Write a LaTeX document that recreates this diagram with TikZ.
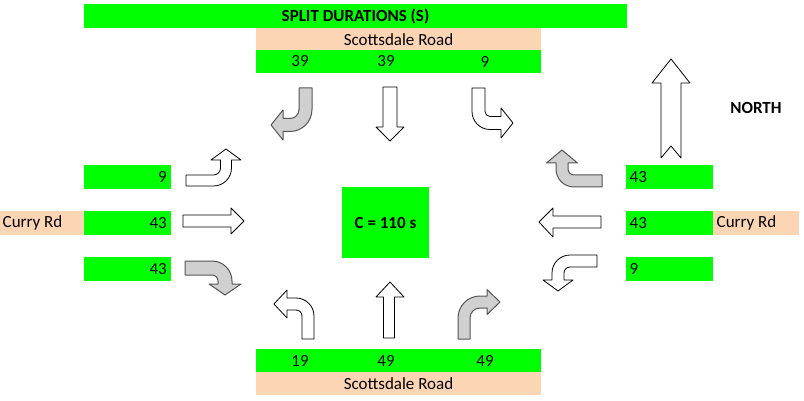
\documentclass[tikz,border=0pt]{standalone}
\usepackage{fontspec}
\setmainfont{Carlito}
\definecolor{lime}{HTML}{00FF00}
\definecolor{peach}{HTML}{FCD5B4}
\definecolor{arrowgray}{HTML}{D0D0D0}
\definecolor{arrowedge}{HTML}{555555}
\newcommand\turnarrow[7]{%
  \draw[#7] (0,0) -- (0,{#3-#2}) arc[start angle=180,end angle=90,radius=#2]
    -- (#4,#3) -- (#4,{#3-#1/2+#5}) -- ({#4+#6},{#3-#1/2}) -- (#4,{#3-#1/2-#5})
    -- (#4,{#3-#1}) -- (#2,{#3-#1}) arc[start angle=90,end angle=180,radius={#2-#1}]
    -- (#1,0) -- cycle;}
\begin{document}
\begin{tikzpicture}[x=1pt,y=1pt,
  every node/.style={font=\fontsize{17}{20}\selectfont, inner sep=0pt},
  boldtext/.style={font=\fontsize{17}{20}\selectfont\bfseries},
  cellbox/.style={fill=#1, minimum height=23pt, anchor=north west},
  whitearrow/.style={draw=black, fill=white, line width=0.8pt, line join=round},
  grayarrow/.style={draw=arrowedge, fill=arrowgray, line width=1pt, line join=round}]
\useasboundingbox (0,0) rectangle (804,-401);
\fill[white] (0,0) rectangle (804,-401);
% top
\node[cellbox=lime, minimum width=543pt, minimum height=24pt] (title) at (84,-4) {};
\node[boldtext] (titletext) at (355.5,-16.5) {SPLIT DURATIONS (S)};
\node[cellbox=peach, minimum width=285pt, minimum height=22pt] (topname) at (256,-28) {};
\node (topnametext) at (398.5,-39.5) {Scottsdale Road};
\node[cellbox=lime, minimum width=285pt] (topnums) at (256,-50) {};
\node (t1) at (300,-61.5) {39};
\node (t2) at (386,-61.5) {39};
\node (t3) at (485,-61.5) {9};
% bottom
\node[cellbox=lime, minimum width=285pt] (botnums) at (256,-349) {};
\node (b1) at (300,-360.5) {19};
\node (b2) at (386,-360.5) {49};
\node (b3) at (485,-360.5) {49};
\node[cellbox=peach, minimum width=285pt] (botname) at (256,-372) {};
\node (botnametext) at (398.5,-383.5) {Scottsdale Road};
% left
\node[cellbox=lime, minimum width=87pt, minimum height=24pt] (l1) at (84,-165) {};
\node[cellbox=lime, minimum width=87pt, minimum height=24pt] (l2) at (84,-211) {};
\node[cellbox=lime, minimum width=87pt, minimum height=24pt] (l3) at (84,-257) {};
\node[cellbox=peach, minimum width=84pt, minimum height=24pt] (lname) at (0,-211) {};
\node[anchor=east] (l1t) at (167,-177) {9};
\node[anchor=east] (l2t) at (167,-223) {43};
\node[anchor=east] (l3t) at (167,-269) {43};
\node[anchor=west] (lnamet) at (2.5,-223) {Curry Rd};
% right
\node[cellbox=lime, minimum width=87pt, minimum height=24pt] (r1) at (626,-165) {};
\node[cellbox=lime, minimum width=87pt, minimum height=24pt] (r2) at (626,-211) {};
\node[cellbox=lime, minimum width=87pt, minimum height=24pt] (r3) at (626,-257) {};
\node[cellbox=peach, minimum width=86pt, minimum height=24pt] (rname) at (713,-211) {};
\node[anchor=west] (r1t) at (629.5,-177) {43};
\node[anchor=west] (r2t) at (629.5,-223) {43};
\node[anchor=west] (r3t) at (629.5,-269) {9};
\node[anchor=west] (rnamet) at (716.5,-223) {Curry Rd};
% centre
\node[cellbox=lime, minimum width=87pt, minimum height=71pt] (cyc) at (342,-187) {};
\node[boldtext] (cyct) at (385.5,-223) {C = 110 s};
% north
\node[boldtext] (north) at (756,-108) {NORTH};
\draw[whitearrow] (661,-158) -- (661,-83) -- (652,-83) -- (671,-59) -- (690,-83) -- (681,-83) -- (681,-158) -- (671,-146) -- cycle;
% straight arrows
\draw[whitearrow] (383,-87) -- (397,-87) -- (397,-127) -- (404,-127) -- (390,-141) -- (376,-127) -- (383,-127) -- cycle;
\draw[whitearrow] (383.5,-338) -- (383.5,-297) -- (376,-297) -- (390,-282) -- (404,-297) -- (394.5,-297) -- (394.5,-338) -- cycle;
\draw[whitearrow] (183,-215) -- (231,-215) -- (231,-208) -- (244,-221) -- (231,-234) -- (231,-227) -- (183,-227) -- cycle;
\draw[whitearrow] (601,-216) -- (553,-216) -- (553,-208) -- (539,-222) -- (553,-237) -- (553,-228) -- (601,-228) -- cycle;
% turn arrows
\begin{scope}[shift={(458,-339)}]\turnarrow{12}{22}{43}{29}{12.5}{13}{grayarrow}\end{scope}
\begin{scope}[shift={(314,-339)}, xscale=-1]\turnarrow{12}{18}{41}{27}{14}{13}{whitearrow}\end{scope}
\begin{scope}[shift={(312,-88)}, rotate=180]\turnarrow{13}{22}{43.5}{29}{15}{12}{grayarrow}\end{scope}
\begin{scope}[shift={(472,-88)}, yscale=-1]\turnarrow{13}{18}{41.5}{29}{15}{12}{whitearrow}\end{scope}
\begin{scope}[shift={(186,-186)}, rotate=-90, xscale=-1]\turnarrow{11}{18}{45.5}{26}{15}{11}{whitearrow}\end{scope}
\begin{scope}[shift={(185,-261)}, rotate=-90]\turnarrow{14}{20}{47}{23}{16}{11}{grayarrow}\end{scope}
\begin{scope}[shift={(602,-187)}, rotate=90]\turnarrow{12}{18}{46}{24}{15.5}{13}{grayarrow}\end{scope}
\begin{scope}[shift={(597,-255)}, rotate=90, xscale=-1]\turnarrow{12}{18}{45}{25}{15}{11}{whitearrow}\end{scope}
\end{tikzpicture}
\end{document}
